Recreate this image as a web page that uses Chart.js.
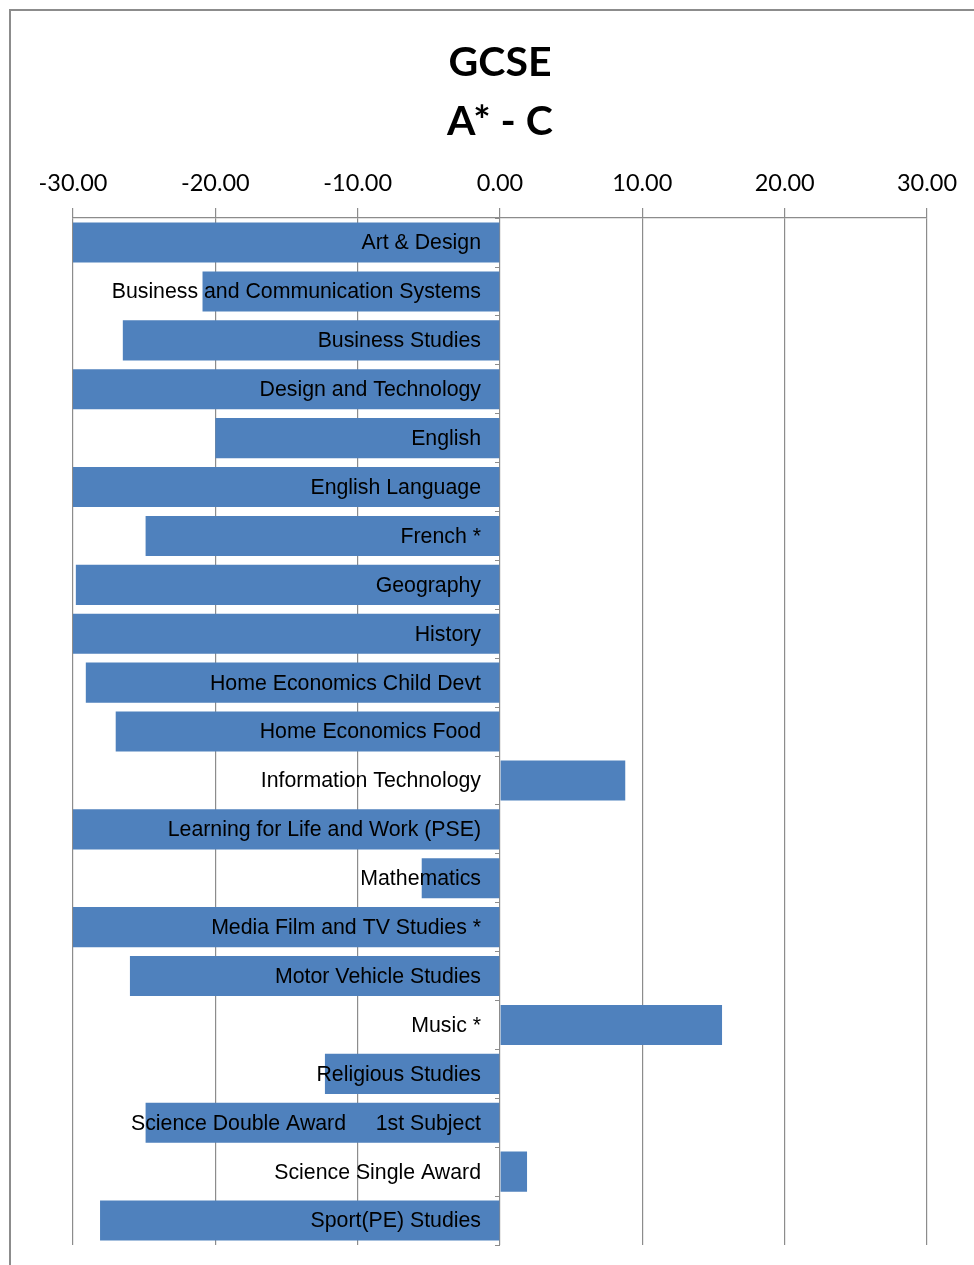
<!DOCTYPE html>
<html>
<head>
<meta charset="utf-8">
<script src="https://cdn.jsdelivr.net/npm/chart.js@4"></script>
<style>
  html, body { margin: 0; padding: 0; background: #fff; }
  #wrap { width: 974px; height: 1265px; position: relative; }
</style>
</head>
<body>
<div id="wrap"><canvas id="gcseChart"></canvas></div>
<script>
// subjects, top to bottom
const subjects = [
  'Art & Design',
  'Business and Communication Systems',
  'Business Studies',
  'Design and Technology',
  'English',
  'English Language',
  'French *',
  'Geography',
  'History',
  'Home Economics Child Devt',
  'Home Economics Food',
  'Information Technology',
  'Learning for Life and Work (PSE)',
  'Mathematics',
  'Media Film and TV Studies *',
  'Motor Vehicle Studies',
  'Music *',
  'Religious Studies',
  'Science Double Award     1st Subject',
  'Science Single Award',
  'Sport(PE) Studies'
];

// difference in A* - C (%)
const diffs = [
  -30.0, -20.9, -26.5, -30.0, -20.0, -30.0, -24.9, -29.8, -30.0, -29.1,
  -27.0, 8.8, -30.0, -5.5, -30.0, -26.0, 15.6, -12.3, -24.9, 1.9, -28.1
];

const axisMin = -30;
const axisMax = 30;
const axisStep = 10;

const gridGrey = '#8c8c8c';

// chart frame
const framePlugin = {
  id: 'frame',
  beforeDraw(chart) {
    const ctx = chart.ctx;
    ctx.save();
    ctx.strokeStyle = gridGrey;
    ctx.lineWidth = 2;
    ctx.strokeRect(10, 10, 1100, 1400);
    ctx.restore();
  }
};

// subject names sit just left of the zero line, over the bars
const subjectLabels = {
  id: 'subjectLabels',
  afterDatasetsDraw(chart) {
    const { ctx, scales: { x, y } } = chart;
    const x0 = x.getPixelForValue(0);
    ctx.save();
    ctx.font = '21.3px "Liberation Sans", Arial, sans-serif';
    ctx.fillStyle = '#000';
    ctx.textAlign = 'right';
    ctx.textBaseline = 'middle';
    chart.data.labels.forEach((lbl, i) => {
      ctx.fillText(lbl, x0 - 19, y.getPixelForValue(i) + 1);
    });
    ctx.restore();
  }
};

const ctx = document.getElementById('gcseChart').getContext('2d');
const chart = new Chart(ctx, {
  type: 'bar',
  data: {
    labels: subjects,
    datasets: [{
      label: 'GCSE A* - C',
      data: diffs,
      backgroundColor: '#4f81bd',
      borderWidth: 0,
      barPercentage: 0.82,
      categoryPercentage: 1.0
    }]
  },
  options: {
    indexAxis: 'y',
    responsive: true,
    maintainAspectRatio: false,
    animation: false,
    layout: {
      padding: { left: 73, right: 47, top: 10, bottom: 20 }
    },
    plugins: {
      legend: { display: false },
      tooltip: { enabled: true },
      title: {
        display: true,
        text: ['GCSE', 'A* - C'],
        color: '#000',
        font: { family: 'Lato, "Open Sans", sans-serif', size: 41, weight: 'bold', lineHeight: 1.45 },
        padding: { top: 23, bottom: 6 }
      }
    },
    scales: {
      x: {
        position: 'top',
        min: axisMin,
        max: axisMax,
        ticks: {
          stepSize: axisStep,
          color: '#000',
          padding: 11,
          font: { family: 'Lato, "Open Sans", sans-serif', size: 23.5 },
          callback: v => Number(v).toFixed(2)
        },
        grid: { color: gridGrey, tickLength: 10, lineWidth: 1.2 },
        border: { color: gridGrey, width: 1.2 }
      },
      y: {
        position: { x: 0 },
        ticks: { display: false },
        grid: { drawOnChartArea: false, tickLength: 5, color: gridGrey },
        border: { display: false },
        afterFit: s => { s.width = 0; }
      }
    }
  },
  plugins: [framePlugin, subjectLabels]
});
</script>
</body>
</html>
